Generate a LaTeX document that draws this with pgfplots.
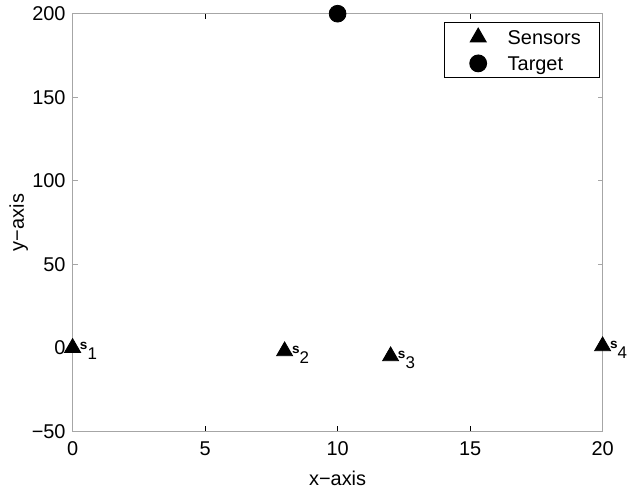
\documentclass[border=0pt]{standalone}
\usepackage{pgfplots}
\pgfplotsset{compat=1.18}
\usepackage{fontspec}
\setmainfont{Liberation Sans}
\pgfplotsset{
  legmark/.style={legend image code/.code={\path (0,-5bp) (31bp,5bp); \draw[##1] plot coordinates {(16.5bp,0)};}},
}
\newcommand{\legpad}{\rule{9.5bp}{0pt}}
\begin{document}
\fontsize{10}{12}\selectfont
\begin{tikzpicture}
\begin{axis}[
    scale only axis,
    width=265bp, height=208.8bp,
    xmin=0, xmax=20, ymin=-50, ymax=200,
    xtick={0,5,10,15,20},
    ytick={-50,0,50,100,150,200},
    yticklabels={−50,0,50,100,150,200},
    tick align=inside,
    major tick length=2.5bp,
    tick style={line width=0.5bp},
    x axis line style={black, line width=0.5bp},
    y axis line style={gray!70, line width=0.5bp},
    ytick style={gray!70},
    xtick style={black},
    tick label style={font=\fontsize{10}{12}\selectfont},
    /pgf/number format/assume math mode=true,
    xticklabel style={yshift=-1.5bp},
    xlabel={x−axis}, ylabel={y−axis},
    every axis x label/.style={at={(axis description cs:0.5,0)}, anchor=base, yshift=-27bp},
    every axis y label/.style={at={(axis description cs:0,0.5)}, rotate=90, anchor=base, yshift=24.3bp},
    label style={font=\fontsize{10}{12}\selectfont},
    clip=false,
    legend cell align=left,
    legend style={at={(rel axis cs:1,1)}, anchor=north east, xshift=-1.15bp, yshift=-4.35bp,
        draw=black, line width=0.5bp, font=\fontsize{10}{12}\selectfont,
        inner xsep=0pt, inner ysep=2bp, row sep=2.5bp,
        nodes={inner sep=0pt, text height=8.5bp, text depth=1.5bp}},
]
\addplot[only marks, mark=triangle*, mark size=4.6bp, black, legmark,
    nodes near coords={{\fontsize{6.8}{8}\selectfont\bfseries s}\raisebox{-5bp}{\fontsize{8.5}{10}\selectfont\pgfplotspointmeta}},
    point meta=explicit symbolic,
    every node near coord/.append style={anchor=base west, xshift=3.5bp, yshift=-1bp, inner sep=0pt}]
  coordinates {(0,0) [1] (8,-2) [2] (12,-5) [3] (20,1) [4]};
\addlegendentry{Sensors\legpad}
\addplot[only marks, mark=*, mark size=4.2bp, black, legmark]
  coordinates {(10,200)};
\addlegendentry{Target\legpad}
\end{axis}
\path[use as bounding box] ([xshift=-36.3bp,yshift=-27.7bp]current axis.south west) rectangle ([xshift=13.7bp,yshift=6bp]current axis.north east);
\end{tikzpicture}
\end{document}
